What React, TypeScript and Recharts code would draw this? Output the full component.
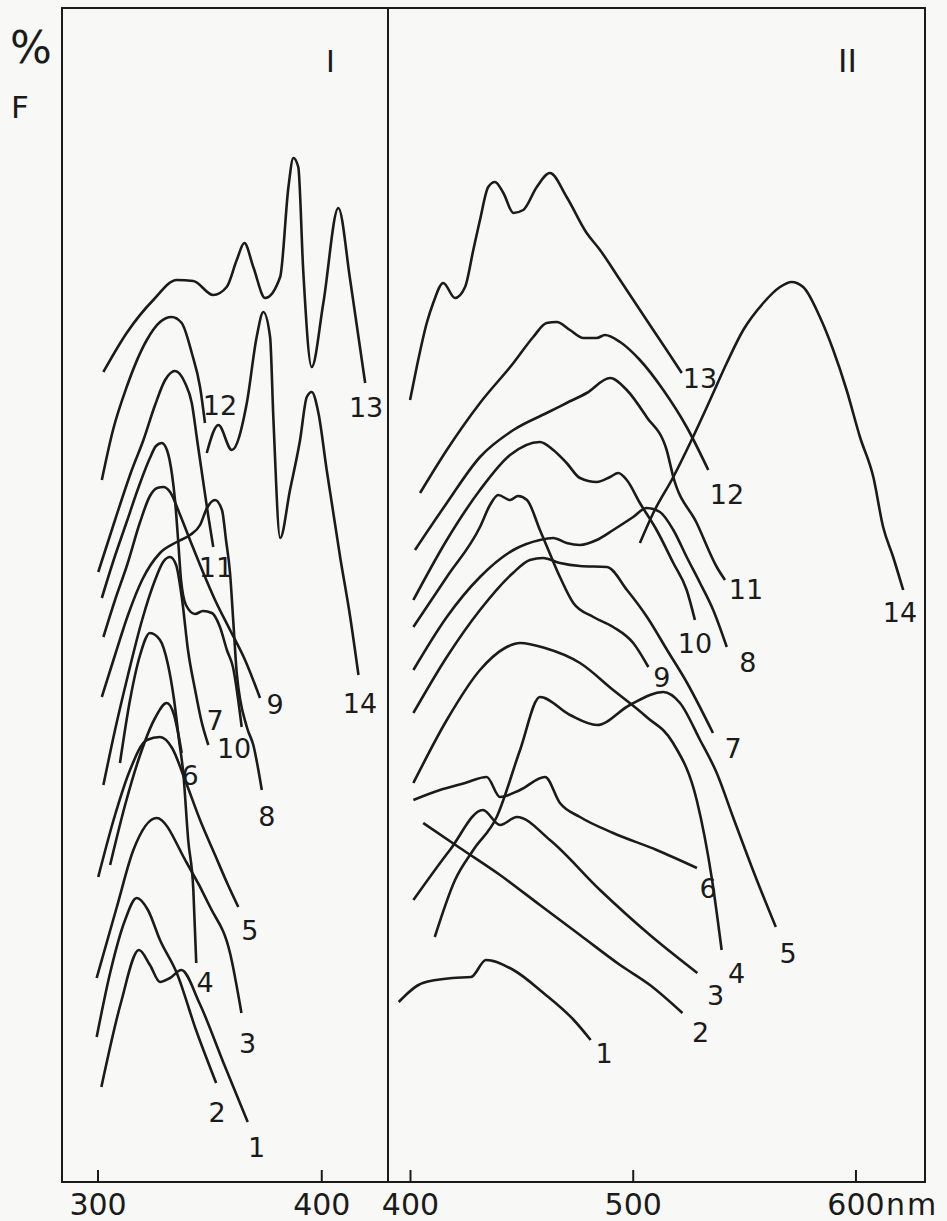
import { ComposedChart, Line, XAxis, YAxis, ReferenceArea, Scatter } from "recharts";

// Fluorescence spectra, panel I (excitation, nm) and panel II (emission, nm).
// y values are relative fluorescence in arbitrary units (curves offset vertically).
type P = [number, number];

const p1c1: P[] = [[301.5, 9.5], [310.2, 17.9], [318.3, 23.2], [323.2, 21.7], [327.7, 20.0], [332.2, 20.4], [337.2, 21.2], [345.3, 17.9], [356.1, 11.9], [366.9, 6.0]];
const p1c2: P[] = [[299.4, 14.5], [305.4, 20.9], [312.1, 26.2], [317.3, 28.4], [322.3, 27.2], [327.7, 24.2], [335.2, 20.9], [343.8, 15.2], [352.8, 9.9]];
const p1c3: P[] = [[299.4, 20.4], [308.4, 27.5], [315.8, 33.2], [326.2, 36.4], [339.7, 31.9], [350.1, 27.5], [359.0, 22.9], [364.1, 16.9]];
const p1c4: P[] = [[309.8, 41.9], [314.3, 48.2], [318.8, 52.7], [323.2, 54.9], [327.7, 54.2], [331.3, 51.7], [334.0, 48.2], [336.2, 44.2], [338.1, 40.9], [340.3, 34.2], [342.6, 29.2], [343.9, 21.9]];
const p1c5: P[] = [[300.1, 30.5], [307.6, 36.7], [314.3, 41.2], [321.8, 44.2], [327.7, 44.5], [333.1, 43.4], [338.9, 40.2], [345.6, 36.2], [352.3, 32.7], [358.1, 29.7], [362.7, 27.5]];
const p1c6: P[] = [[305.4, 31.7], [312.1, 37.7], [318.8, 42.7], [325.5, 46.4], [330.7, 47.9], [334.0, 46.7], [335.8, 44.9], [337.4, 42.9]];
const p1c7: P[] = [[302.4, 39.7], [307.6, 45.2], [313.4, 50.7], [319.7, 56.2], [325.5, 60.2], [329.1, 62.0], [332.2, 62.5], [334.9, 61.7], [337.6, 58.2], [340.2, 53.2], [343.4, 49.2], [346.1, 46.2], [349.3, 43.7]];
const p1c8: P[] = [[301.7, 48.5], [307.6, 52.7], [313.4, 56.7], [319.7, 60.2], [327.7, 62.9], [335.2, 64.0], [341.1, 64.7], [345.6, 65.7], [348.7, 67.4], [352.3, 68.2], [355.4, 67.2], [357.2, 64.2], [359.0, 60.9], [360.5, 55.9], [362.0, 50.9], [366.5, 45.5], [369.4, 43.7], [373.2, 39.2]];
const p1c9: P[] = [[302.4, 54.5], [307.6, 58.2], [313.0, 61.7], [318.8, 66.0], [323.2, 68.6], [326.4, 69.4], [329.2, 69.5], [332.2, 69.0], [336.7, 66.7], [341.1, 64.2], [345.6, 61.7], [352.3, 58.2], [359.0, 55.2], [365.7, 52.2], [372.4, 48.4]];
const p1c10: P[] = [[301.7, 58.4], [306.7, 62.0], [312.8, 66.0], [318.0, 69.4], [323.2, 72.4], [325.9, 73.6], [328.5, 73.9], [330.8, 73.2], [333.1, 70.7], [334.4, 68.2], [335.8, 64.2], [337.1, 60.2], [339.3, 57.7], [343.4, 56.8], [346.9, 57.1], [350.9, 56.9], [354.5, 55.5], [357.6, 53.2], [360.3, 51.5], [364.2, 45.5]];
const p1c11: P[] = [[300.1, 61.0], [307.6, 66.2], [315.1, 71.2], [320.3, 74.2], [325.5, 77.7], [330.0, 80.2], [334.4, 81.1], [338.9, 79.9], [341.9, 77.9], [344.3, 74.2], [346.9, 70.2], [349.2, 66.7], [351.5, 63.5]];
const p1c12: P[] = [[301.7, 70.2], [306.7, 75.2], [312.8, 79.5], [321.8, 84.2], [327.7, 86.0], [332.9, 86.5], [337.4, 85.9], [341.9, 82.9], [345.6, 79.5], [347.8, 75.9]];
const p1c13: P[] = [[302.4, 81.0], [312.8, 84.9], [324.7, 88.2], [335.2, 90.2], [342.6, 90.1], [351.5, 88.7], [357.5, 89.5], [362.0, 92.2], [365.4, 93.9], [369.4, 91.5], [374.7, 88.4], [381.4, 90.5], [385.1, 99.5], [387.3, 102.4], [389.5, 101.5], [391.7, 91.2], [395.5, 81.5], [400.7, 87.9], [407.4, 97.4], [412.7, 90.2], [419.4, 79.9]];
const p1c14: P[] = [[348.6, 72.9], [353.8, 75.7], [359.8, 73.2], [366.5, 77.9], [370.9, 84.5], [373.9, 87.0], [376.9, 84.5], [378.4, 76.2], [381.4, 64.4], [385.8, 69.2], [390.3, 74.2], [393.3, 78.5], [395.5, 79.0], [398.5, 76.9], [402.2, 71.2], [408.2, 62.5], [412.7, 56.5], [416.4, 50.7]];

const p2c1: P[] = [[394.7, 18.0], [405.5, 19.9], [419.0, 20.4], [427.2, 20.5], [433.9, 22.2], [446.2, 21.2], [459.7, 18.9], [473.3, 16.2], [480.9, 14.2]];
const p2c2: P[] = [[405.7, 35.9], [422.2, 33.4], [440.2, 30.7], [458.1, 27.7], [476.1, 24.7], [494.1, 21.7], [507.5, 19.7], [522.1, 16.9]];
const p2c3: P[] = [[401.3, 28.2], [417.7, 33.2], [432.5, 37.2], [440.2, 35.7], [447.8, 36.5], [462.6, 34.2], [485.1, 29.2], [507.5, 24.7], [528.8, 20.9]];
const p2c4: P[] = [[401.3, 39.9], [416.3, 46.2], [431.2, 51.2], [442.4, 53.4], [449.2, 53.9], [460.4, 53.4], [476.1, 51.9], [491.0, 49.2], [506.0, 46.5], [517.9, 43.9], [528.5, 38.2], [535.4, 30.2], [539.7, 23.2]];
const p2c5: P[] = [[410.9, 24.5], [420.0, 30.2], [428.2, 33.2], [438.7, 36.5], [449.2, 43.2], [458.1, 48.5], [471.6, 46.7], [483.7, 45.7], [498.5, 47.7], [513.5, 49.0], [521.0, 47.9], [530.0, 44.2], [537.5, 40.9], [544.8, 36.5], [554.6, 30.7], [564.0, 25.5]];
const p2c6: P[] = [[401.3, 38.2], [413.2, 39.2], [424.5, 39.9], [434.2, 40.5], [440.2, 38.5], [449.2, 39.2], [460.4, 40.5], [467.1, 37.9], [476.1, 36.5], [491.0, 34.9], [510.5, 33.2], [528.6, 31.4]];
const p2c7: P[] = [[401.3, 46.9], [416.3, 52.5], [431.2, 57.2], [446.0, 60.9], [453.6, 62.2], [459.5, 62.4], [467.1, 61.9], [476.1, 61.6], [488.2, 61.5], [497.2, 59.2], [506.2, 56.5], [515.2, 53.2], [524.2, 49.9], [535.8, 44.9]];
const p2c8: P[] = [[401.3, 51.2], [416.3, 56.5], [431.2, 60.5], [446.2, 63.2], [458.1, 64.2], [464.1, 64.4], [470.1, 63.9], [476.1, 63.7], [483.6, 64.2], [491.0, 65.2], [500.0, 66.5], [506.0, 67.4], [512.0, 67.0], [518.0, 65.2], [524.0, 62.5], [530.0, 59.9], [535.9, 57.2], [542.0, 53.5]];
const p2c9: P[] = [[401.3, 55.5], [416.3, 60.5], [431.2, 65.5], [435.7, 67.7], [439.4, 68.7], [444.7, 68.2], [448.3, 68.6], [452.3, 68.2], [458.1, 65.2], [461.9, 63.2], [467.1, 60.5], [473.1, 57.9], [482.1, 56.5], [491.0, 55.5], [500.0, 53.9], [506.8, 51.5]];
const p2c10: P[] = [[401.3, 58.2], [416.3, 64.2], [431.2, 69.2], [444.7, 72.7], [458.1, 74.0], [464.1, 73.2], [470.1, 71.9], [476.1, 70.4], [483.6, 70.0], [489.6, 70.5], [493.3, 70.9], [497.1, 70.2], [503.0, 67.9], [510.5, 65.2], [518.0, 61.9], [524.0, 59.2], [527.7, 56.2]];
const p2c11: P[] = [[402.0, 63.2], [416.3, 67.9], [431.2, 72.5], [446.2, 75.2], [461.1, 76.9], [470.1, 77.9], [479.1, 78.9], [489.6, 80.4], [497.1, 79.2], [506.0, 76.5], [515.0, 73.2], [518.0, 70.5], [528.5, 65.9], [537.5, 61.5], [541.2, 60.2]];
const p2c12: P[] = [[404.3, 68.9], [416.3, 73.2], [431.2, 77.9], [446.2, 81.9], [455.1, 84.5], [461.1, 85.9], [465.6, 86.0], [471.6, 85.2], [477.6, 84.4], [483.6, 84.4], [487.3, 84.7], [494.1, 84.0], [503.0, 82.2], [513.5, 79.2], [524.0, 75.5], [533.7, 71.2]];
const p2c13: P[] = [[399.8, 78.2], [402.8, 81.5], [407.3, 85.9], [410.2, 87.9], [414.7, 89.9], [420.0, 88.4], [424.5, 89.5], [428.2, 93.2], [431.2, 96.2], [434.9, 99.5], [437.9, 100.0], [441.7, 98.9], [446.2, 96.9], [450.6, 97.2], [456.7, 99.5], [462.6, 100.9], [470.1, 98.5], [479.1, 94.9], [485.1, 93.2], [494.1, 90.2], [506.0, 86.2], [515.0, 83.2], [521.8, 80.9]];
const p2c14: P[] = [[503.0, 63.9], [509.0, 66.9], [518.0, 70.5], [526.2, 74.2], [534.5, 78.2], [542.0, 81.9], [549.4, 85.2], [558.4, 87.9], [565.9, 89.5], [571.1, 90.0], [576.3, 89.5], [583.8, 86.5], [589.8, 83.2], [595.8, 79.2], [601.8, 74.5], [607.8, 70.5], [612.2, 65.5], [616.7, 62.5], [621.2, 59.2]];

const curveNames = ["1", "2", "3", "4", "5", "6", "7", "8", "9", "10", "11", "12", "13", "14"];
const panel1 = [p1c1, p1c2, p1c3, p1c4, p1c5, p1c6, p1c7, p1c8, p1c9, p1c10, p1c11, p1c12, p1c13, p1c14];
const panel2 = [p2c1, p2c2, p2c3, p2c4, p2c5, p2c6, p2c7, p2c8, p2c9, p2c10, p2c11, p2c12, p2c13, p2c14];

// where each curve number is written (nm, value)
const labels1: P[] = [[370.9, 3.5], [353.2, 7.0], [366.9, 13.9], [347.8, 20.0], [367.9, 25.2], [341.1, 40.7], [352.3, 46.2], [375.5, 36.6], [379.1, 47.8], [360.8, 43.4], [352.7, 61.5], [354.5, 77.7], [419.8, 77.5], [417.1, 47.9]];
const labels2: P[] = [[486.9, 12.9], [530.2, 15.0], [537.0, 18.7], [546.4, 20.9], [569.5, 22.9], [533.6, 29.4], [544.8, 43.4], [551.5, 52.0], [512.9, 50.5], [527.7, 53.9], [550.6, 59.3], [542.1, 68.8], [530.0, 80.4], [619.8, 57.0]];

const ticks1 = [300, 400];
const ticks2 = [400, 500, 600];
const domain1: [number, number] = [283.9, 429.6];
const domain2: [number, number] = [389.9, 631.0];
const yMax = 117.4;

const INK = "#1b1b1b";
const FONT = "'DejaVu Sans', 'Liberation Sans', sans-serif";

const AxisTick = (props: any) => {
  const { x, y, payload } = props;
  return (
    <g>
      <line x1={x} x2={x} y1={y - 12} y2={y} stroke={INK} strokeWidth={2} />
      <text x={x} y={y + 33} textAnchor="middle" fontSize={30} fill={INK} fontFamily={FONT}>
        {payload.value}
      </text>
      {payload.value === 600 && (
        <text x={x + 30} y={y + 33} fontSize={30} fill={INK} fontFamily={FONT} letterSpacing={2}>
          nm
        </text>
      )}
    </g>
  );
};

const CurveLabel = (props: any) => {
  const { cx, cy, payload } = props;
  return (
    <text x={cx} y={cy} textAnchor="middle" dominantBaseline="central" fontSize={27} fill={INK} fontFamily={FONT}>
      {payload.t}
    </text>
  );
};

const toRows = (a: P[]) => a.map(([x, y]) => ({ x, y }));

type PanelProps = {
  curves: P[][];
  labels: P[];
  domain: [number, number];
  ticks: number[];
  left: number;
  width: number;
  margin: { top: number; right: number; bottom: number; left: number };
};

const Panel = ({ curves, labels, domain, ticks, left, width, margin }: PanelProps) => (
  <div style={{ position: "absolute", left, top: 0 }}>
    <ComposedChart width={width} height={1221} margin={margin}>
      <XAxis
        type="number"
        dataKey="x"
        domain={domain}
        ticks={ticks}
        allowDataOverflow
        height={39}
        tickSize={0}
        tickMargin={0}
        tickLine={false}
        axisLine={{ stroke: INK, strokeWidth: 2 }}
        tick={<AxisTick />}
      />
      <YAxis type="number" dataKey="y" domain={[0, yMax]} hide allowDataOverflow />
      <ReferenceArea x1={domain[0]} x2={domain[1]} y1={0} y2={yMax} fill="none" stroke={INK} strokeWidth={2} fillOpacity={0} />
      {curves.map((c, i) => (
        <Line
          key={i}
          data={toRows(c)}
          dataKey="y"
          type="monotone"
          dot={false}
          stroke={INK}
          strokeWidth={2.6}
          isAnimationActive={false}
        />
      ))}
      <Scatter
        data={labels.map(([x, y], i) => ({ x, y, t: curveNames[i] }))}
        dataKey="y"
        shape={<CurveLabel />}
        isAnimationActive={false}
      />
    </ComposedChart>
  </div>
);

const txt = { position: "absolute" as const, fontFamily: FONT, color: INK, lineHeight: 1 };

export default function App() {
  return (
    <div style={{ position: "absolute", left: 0, top: 0, width: 947, height: 1221, background: "#f8f8f6", overflow: "hidden" }}>
      <Panel curves={panel1} labels={labels1} domain={domain1} ticks={ticks1} left={0} width={388} margin={{ top: 8, right: 0, bottom: 0, left: 62 }} />
      <Panel curves={panel2} labels={labels2} domain={domain2} ticks={ticks2} left={358} width={589} margin={{ top: 8, right: 22, bottom: 0, left: 30 }} />
      <div style={{ ...txt, left: 10, top: 26, fontSize: 44 }}>%</div>
      <div style={{ ...txt, left: 11, top: 92, fontSize: 31 }}>F</div>
      <div style={{ ...txt, left: 326, top: 47, fontSize: 30 }}>I</div>
      <div style={{ ...txt, left: 838, top: 45, fontSize: 32 }}>II</div>
    </div>
  );
}
